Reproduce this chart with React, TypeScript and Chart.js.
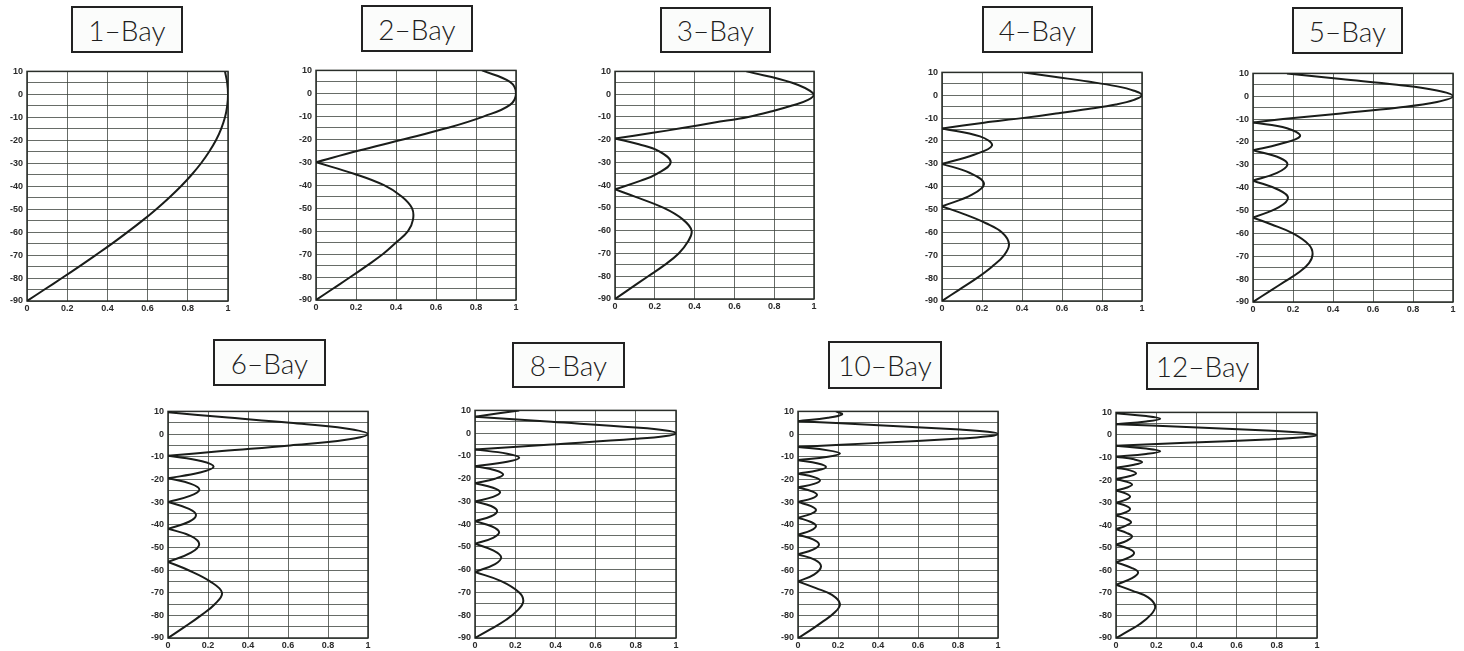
import React, { useEffect, useRef } from 'react';
import { Chart, registerables } from 'chart.js';

Chart.register(...registerables);

// ---------- tick labels ----------
const Y_TICK_VALUES = [10, 0, -10, -20, -30, -40, -50, -60, -70, -80, -90];
const Y_GRID_VALUES = [10, 5, 0, -5, -10, -15, -20, -25, -30, -35, -40, -45, -50, -55, -60, -65, -70, -75, -80, -85, -90];
const X_TICK_VALUES = [0, 0.2, 0.4, 0.6, 0.8, 1];
const X_TICK_LABELS = ['0', '0.2', '0.4', '0.6', '0.8', '1'];

// ---------- titles ----------
const TITLES = ['1–Bay', '2–Bay', '3–Bay', '4–Bay', '5–Bay', '6–Bay', '8–Bay', '10–Bay', '12–Bay'];

// ---------- series (elevation angle in degrees, relative field) ----------
const BAY1_ANGLES = [10, 5, 0, -5, -10, -15, -20, -25, -30, -35, -40, -45, -50, -55, -60, -65, -70, -75, -80, -85, -90];
const BAY1_AMPS = [0.985, 0.996, 1, 0.996, 0.985, 0.966, 0.94, 0.906, 0.866, 0.819, 0.766, 0.707, 0.643, 0.574, 0.5, 0.423, 0.342, 0.259, 0.174, 0.087, 0];

const BAY2_ANGLES = [10, 5, 0, -5, -10, -15, -20, -25, -30, -35, -40, -45, -50, -55, -60, -65, -70, -75, -80, -85, -90];
const BAY2_AMPS = [0.83, 0.97, 1, 0.97, 0.84, 0.66, 0.44, 0.21, 0, 0.19, 0.34, 0.43, 0.48, 0.485, 0.46, 0.4, 0.335, 0.255, 0.172, 0.086, 0];

const BAY3_ANGLES = [10, 5, 0, -2.5, -5, -7.5, -10, -12.5, -15, -17, -19.5, -22, -25, -30, -35, -38, -41.8, -45, -50, -55, -60, -65, -70, -75, -80, -85, -90];
const BAY3_AMPS = [0.66, 0.89, 1, 0.97, 0.89, 0.79, 0.67, 0.5, 0.33, 0.19, 0, 0.12, 0.22, 0.28, 0.21, 0.13, 0, 0.1, 0.245, 0.34, 0.385, 0.365, 0.32, 0.25, 0.167, 0.083, 0];

const BAY4_ANGLES = [10, 8, 6, 4, 2, 0, -2, -4, -6, -8, -10, -12, -14.5, -18, -22, -26, -30, -34, -38.7, -43.5, -48.6, -52, -56, -60, -65, -70, -75, -80, -85, -90];
const BAY4_AMPS = [0.41, 0.57, 0.73, 0.87, 0.96, 1, 0.96, 0.87, 0.73, 0.57, 0.4, 0.21, 0, 0.19, 0.25, 0.16, 0, 0.14, 0.21, 0.15, 0, 0.11, 0.22, 0.3, 0.335, 0.31, 0.25, 0.174, 0.087, 0];

const BAY5_ANGLES = [10, 7.5, 5, 2.5, 0, -2.5, -5, -7.5, -10, -11.5, -14, -17.5, -21, -23.6, -27, -30, -33.5, -36.9, -41, -44.4, -48.5, -53.1, -56, -60, -65, -69, -73, -77, -81, -85, -90];
const BAY5_AMPS = [0.17, 0.44, 0.72, 0.92, 1, 0.92, 0.72, 0.44, 0.15, 0, 0.17, 0.235, 0.13, 0, 0.135, 0.172, 0.12, 0, 0.13, 0.175, 0.13, 0, 0.09, 0.2, 0.28, 0.298, 0.28, 0.23, 0.16, 0.088, 0];

const BAY6_ANGLES = [10, 9.6, 7.5, 5, 2.5, 0, -2.5, -5, -7.5, -9.6, -12, -14.5, -17, -19.5, -22, -24.6, -27.3, -30, -33, -35.7, -38.7, -41.8, -45, -48.6, -52.3, -56.4, -60, -65, -70, -75, -80, -85, -90];
const BAY6_AMPS = [0.02, 0, 0.27, 0.61, 0.89, 1, 0.89, 0.61, 0.27, 0, 0.17, 0.228, 0.16, 0, 0.115, 0.157, 0.11, 0, 0.105, 0.14, 0.105, 0, 0.115, 0.156, 0.115, 0, 0.1, 0.21, 0.27, 0.235, 0.165, 0.085, 0];

const BAY8_ANGLES = [10, 7.2, 5, 2.5, 1.2, 0, -1.2, -2.5, -5, -7.2, -9, -10.8, -12.6, -14.5, -16.3, -18.2, -20, -22, -24, -26, -28, -30, -32, -34.3, -36.5, -38.7, -41, -43.5, -46, -48.6, -51.5, -54.5, -57.5, -61, -65, -70, -74, -78, -82, -86, -90];
const BAY8_AMPS = [0.22, 0, 0.38, 0.8, 0.95, 1, 0.95, 0.8, 0.38, 0, 0.16, 0.22, 0.16, 0, 0.1, 0.14, 0.1, 0, 0.09, 0.125, 0.09, 0, 0.08, 0.11, 0.08, 0, 0.085, 0.12, 0.09, 0, 0.09, 0.13, 0.1, 0, 0.13, 0.22, 0.24, 0.21, 0.155, 0.08, 0];

const BAY10_ANGLES = [10, 8.7, 7.2, 5.7, 4, 2, 1, 0, -1, -2, -4, -5.7, -7.2, -8.6, -10, -11.5, -13, -14.5, -16, -17.5, -19, -20.5, -22, -23.6, -25.3, -26.8, -28.4, -30, -31.8, -33.5, -35.2, -36.9, -38.8, -40.6, -42.5, -44.4, -46.5, -48.7, -51, -53.1, -55.5, -58.5, -62, -65, -68, -71, -75, -79, -83, -87, -90];
const BAY10_AMPS = [0.19, 0.22, 0.15, 0, 0.38, 0.81, 0.95, 1, 0.95, 0.81, 0.38, 0, 0.15, 0.21, 0.15, 0, 0.1, 0.14, 0.1, 0, 0.08, 0.11, 0.08, 0, 0.07, 0.095, 0.07, 0, 0.065, 0.09, 0.065, 0, 0.065, 0.09, 0.065, 0, 0.075, 0.105, 0.075, 0, 0.085, 0.115, 0.08, 0, 0.09, 0.17, 0.21, 0.18, 0.12, 0.055, 0];

const BAY12_ANGLES = [10, 9.6, 8.4, 7.2, 6, 4.8, 3.5, 2, 1, 0, -1, -2, -3.5, -4.8, -6, -7.2, -8.4, -9.6, -10.8, -12, -13.2, -14.5, -15.7, -17, -18.2, -19.5, -20.8, -22, -23.3, -24.6, -26, -27.3, -28.7, -30, -31.4, -32.8, -34.2, -35.7, -37.2, -38.7, -40.2, -41.8, -43.5, -45, -46.8, -48.6, -50.5, -52.3, -54.3, -56.4, -59, -61, -63.5, -66.4, -69, -72, -76, -80, -84, -87, -90];
const BAY12_AMPS = [0.02, 0, 0.15, 0.22, 0.15, 0, 0.35, 0.75, 0.93, 1, 0.93, 0.75, 0.35, 0, 0.15, 0.22, 0.15, 0, 0.09, 0.13, 0.09, 0, 0.07, 0.1, 0.07, 0, 0.055, 0.08, 0.055, 0, 0.05, 0.07, 0.05, 0, 0.05, 0.07, 0.05, 0, 0.05, 0.075, 0.05, 0, 0.055, 0.08, 0.055, 0, 0.065, 0.09, 0.065, 0, 0.08, 0.11, 0.08, 0, 0.08, 0.16, 0.195, 0.17, 0.115, 0.06, 0];

// ---------- layout (plot areas and title boxes, page pixels) ----------
const PANELS = [
  { title: TITLES[0], angles: BAY1_ANGLES, amps: BAY1_AMPS, plot: { l: 27, t: 70, r: 228, b: 301 }, box: { x: 71, y: 6, w: 112, h: 47 } },
  { title: TITLES[1], angles: BAY2_ANGLES, amps: BAY2_AMPS, plot: { l: 316, t: 69, r: 516, b: 300 }, box: { x: 361, y: 5, w: 112, h: 47 } },
  { title: TITLES[2], angles: BAY3_ANGLES, amps: BAY3_AMPS, plot: { l: 615, t: 70, r: 814, b: 299 }, box: { x: 660, y: 7, w: 111, h: 46 } },
  { title: TITLES[3], angles: BAY4_ANGLES, amps: BAY4_AMPS, plot: { l: 942, t: 71, r: 1142, b: 301 }, box: { x: 982, y: 6, w: 111, h: 47 } },
  { title: TITLES[4], angles: BAY5_ANGLES, amps: BAY5_AMPS, plot: { l: 1253, t: 72, r: 1453, b: 302 }, box: { x: 1292, y: 7, w: 111, h: 47 } },
  { title: TITLES[5], angles: BAY6_ANGLES, amps: BAY6_AMPS, plot: { l: 168, t: 410, r: 368, b: 638 }, box: { x: 213, y: 339, w: 113, h: 47 } },
  { title: TITLES[6], angles: BAY8_ANGLES, amps: BAY8_AMPS, plot: { l: 475, t: 409, r: 676, b: 638 }, box: { x: 512, y: 342, w: 113, h: 46 } },
  { title: TITLES[7], angles: BAY10_ANGLES, amps: BAY10_AMPS, plot: { l: 798, t: 410, r: 998, b: 638 }, box: { x: 828, y: 341, w: 114, h: 48 } },
  { title: TITLES[8], angles: BAY12_ANGLES, amps: BAY12_AMPS, plot: { l: 1116, t: 411, r: 1317, b: 638 }, box: { x: 1146, y: 342, w: 113, h: 48 } },
];

const Y_AXIS_W = 30;
const X_AXIS_H = 16;
const PAD_TOP = 8;
const PAD_RIGHT = 8;
const TENSION = 0.4;

const TICK_FONT = { family: "'Liberation Sans', Arial, sans-serif", size: 9, weight: 'bold' as const };
const GRID_COLOR = 'rgba(60,66,60,0.78)';
const LINE_COLOR = '#1a1d1a';

function toSegments(angles: number[], amps: number[]) {
  const segs: { x: number; y: number }[][] = [];
  let cur: { x: number; y: number }[] = [];
  for (let i = 0; i < angles.length; i++) {
    const p = { x: amps[i], y: angles[i] };
    cur.push(p);
    if (amps[i] === 0 && cur.length > 1) {
      segs.push(cur);
      cur = [p];
    }
  }
  if (cur.length > 1) segs.push(cur);
  return segs;
}

const framePlugin = {
  id: 'frame',
  beforeDatasetsDraw(chart: any) {
    const { ctx, chartArea } = chart;
    ctx.save();
    ctx.strokeStyle = '#2a2e2a';
    ctx.lineWidth = 1.5;
    ctx.strokeRect(chartArea.left, chartArea.top, chartArea.right - chartArea.left, chartArea.bottom - chartArea.top);
    ctx.restore();
  },
};

function Panel({ panel }: { panel: (typeof PANELS)[number] }) {
  const ref = useRef<HTMLCanvasElement | null>(null);
  const { plot } = panel;
  const cw = plot.r - plot.l + Y_AXIS_W + PAD_RIGHT;
  const ch = plot.b - plot.t + PAD_TOP + X_AXIS_H;

  useEffect(() => {
    if (!ref.current) return;
    const segs = toSegments(panel.angles, panel.amps);
    const chart = new Chart(ref.current, {
      type: 'line',
      data: {
        datasets: segs.map((s) => ({
          data: s,
          borderColor: LINE_COLOR,
          borderWidth: 2,
          pointRadius: 0,
          tension: TENSION,
          fill: false,
        })),
      },
      plugins: [framePlugin],
      options: {
        animation: false,
        responsive: false,
        maintainAspectRatio: false,
        events: [],
        layout: { padding: { top: PAD_TOP, right: PAD_RIGHT, left: 0, bottom: 0 } },
        plugins: { legend: { display: false }, tooltip: { enabled: false }, title: { display: false } },
        scales: {
          x: {
            type: 'linear',
            min: 0,
            max: 1,
            afterBuildTicks: (s: any) => {
              s.ticks = X_TICK_VALUES.map((v) => ({ value: v }));
            },
            afterFit: (s: any) => {
              s.height = X_AXIS_H;
            },
            ticks: {
              autoSkip: false,
              maxRotation: 0,
              padding: 2,
              color: '#2a2a2a',
              font: TICK_FONT,
              callback: (_v: any, i: number) => X_TICK_LABELS[i],
            },
            grid: { color: GRID_COLOR, lineWidth: 1, drawTicks: false },
            border: { display: false },
          },
          y: {
            type: 'linear',
            min: -90,
            max: 10,
            afterBuildTicks: (s: any) => {
              s.ticks = Y_GRID_VALUES.map((v) => ({ value: v }));
            },
            afterFit: (s: any) => {
              s.width = Y_AXIS_W;
            },
            ticks: {
              autoSkip: false,
              padding: 4,
              color: '#2a2a2a',
              font: TICK_FONT,
              callback: (v: any) => (Y_TICK_VALUES.includes(Number(v)) ? String(v) : ''),
            },
            grid: { color: GRID_COLOR, lineWidth: 1, drawTicks: false },
            border: { display: false },
          },
        },
      } as any,
    });
    return () => chart.destroy();
  }, [panel]);

  return (
    <>
      <div
        style={{
          position: 'absolute',
          left: panel.box.x,
          top: panel.box.y,
          width: panel.box.w,
          height: panel.box.h,
          boxSizing: 'border-box',
          border: '2px solid #222',
          background: '#fbfcfb',
          display: 'flex',
          alignItems: 'center',
          justifyContent: 'center',
          fontFamily: "Lato, 'Open Sans', 'DejaVu Sans', sans-serif",
          fontWeight: 300,
          fontSize: 28,
          color: '#1e1e1e',
          lineHeight: 1,
        }}
      >
        {panel.title}
      </div>
      <canvas
        ref={ref}
        width={cw}
        height={ch}
        style={{ position: 'absolute', left: plot.l - Y_AXIS_W, top: plot.t - PAD_TOP, width: cw, height: ch }}
      />
    </>
  );
}

export default function App() {
  return (
    <div
      style={{
        position: 'absolute',
        left: 0,
        top: 0,
        width: 1464,
        height: 651,
        overflow: 'hidden',
        background: '#ffffff',
      }}
    >
      {PANELS.map((p) => (
        <Panel key={p.title} panel={p} />
      ))}
    </div>
  );
}
